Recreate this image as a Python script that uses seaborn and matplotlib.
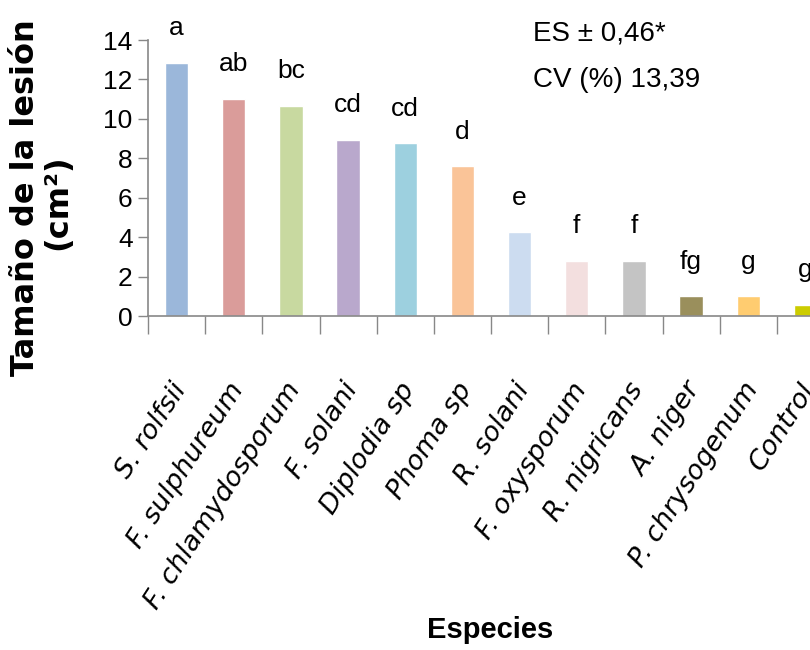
import matplotlib
matplotlib.use("Agg")
import matplotlib.pyplot as plt
import seaborn as sns
import pandas as pd

# data
especies = ["S. rolfsii", "F. sulphureum", "F. chlamydosporum", "F. solani",
            "Diplodia sp", "Phoma sp", "R. solani", "F. oxysporum",
            "R. nigricans", "A. niger", "P. chrysogenum", "Control"]
lesion = [12.85, 11.02, 10.66, 8.93, 8.76, 7.59, 4.25, 2.81, 2.81, 1.0, 1.0, 0.56]
letras = ["a", "ab", "bc", "cd", "cd", "d", "e", "f", "f", "fg", "g", "g"]
colores = ["#9BB7DA", "#DA9C9A", "#C8D9A0", "#B9A8CC", "#9DD0DF", "#FAC498",
           "#CCDCF0", "#F3DFDF", "#C4C4C4", "#9A8F5C", "#FFCC70", "#CCCC00"]

sns.set_style("white")
plt.rcParams['font.family'] = ['Liberation Sans', 'DejaVu Sans']
plt.rcParams['text.color'] = 'black'
plt.rcParams['ytick.color'] = 'black'

df = pd.DataFrame({"Especies": especies, "Lesion": lesion})

fig = plt.figure(figsize=(8.1, 6.5), dpi=100)
ax = fig.add_axes([148/810, 1 - 316/650, 686/810, 276/650])

sns.barplot(data=df, x="Especies", y="Lesion", hue="Especies", palette=colores,
            legend=False, width=0.41, saturation=1, ax=ax)

ax.set_xlim(-0.5, len(especies) - 0.5)
ax.set_ylim(0, 14)
ax.set_yticks(range(0, 15, 2))
ax.set_yticklabels([str(v) for v in range(0, 15, 2)], fontsize=19, color='black')
ax.tick_params(axis='y', length=7, color='#888888', width=1, pad=4, left=True)

# category separator ticks below the axis
ax.set_xticks([i - 0.5 for i in range(len(especies))])
ax.set_xticklabels([])
ax.tick_params(axis='x', length=13, color='#888888', width=1, bottom=True)
for i, name in enumerate(especies):
    ax.text(i + 0.08, -3.5, name, rotation=57, ha='right', va='center',
            rotation_mode='anchor', fontsize=19.5, style='italic',
            family='DejaVu Sans', color='black')

for s in ['top', 'right']:
    ax.spines[s].set_visible(False)
for s in ['left', 'bottom']:
    ax.spines[s].set_color('#888888')
    ax.spines[s].set_linewidth(1.2)

# significance letters
for i, (v, l) in enumerate(zip(lesion, letras)):
    ax.text(i, v + 1.75, l, ha='center', va='center', fontsize=19, color='black')

ax.set_xlabel("")
ax.set_ylabel("")

fig.text(533/810, 1 - 33/650, "ES ± 0,46*", fontsize=20, va='center', ha='left')
fig.text(533/810, 1 - 80/650, "CV (%) 13,39", fontsize=20, va='center', ha='left')

fig.text(26/810, 1 - 198/650, "Tamaño de la lesión", rotation=90, fontsize=23,
         fontweight='bold', family='DejaVu Sans', ha='center', va='center')
fig.text(58/810, 1 - 202/650, "(cm²)", rotation=90, fontsize=23,
         fontweight='bold', family='DejaVu Sans', ha='center', va='center')

fig.text(490/810, 1 - 630/650, "Especies", fontsize=21, fontweight='bold',
         ha='center', va='center')

fig.savefig("out.png", dpi=100)
